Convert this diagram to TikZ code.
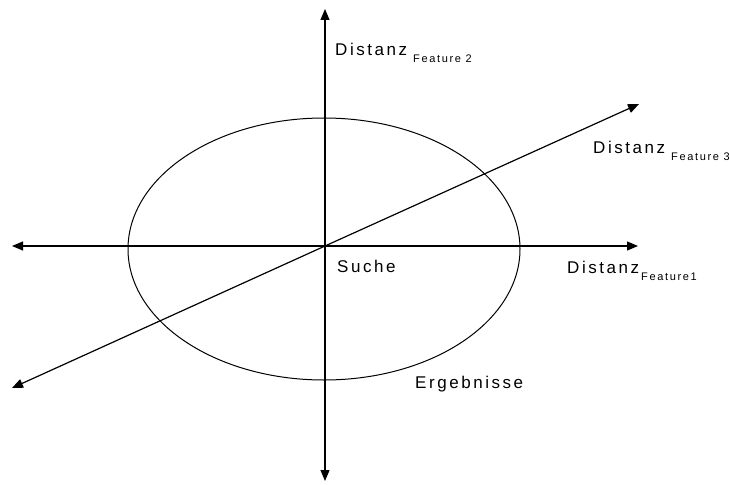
\documentclass[tikz,border=0pt]{standalone}
\usepackage{fontspec}
\setmainfont{Liberation Sans}[LetterSpace=15]
\usetikzlibrary{arrows.meta}
\tikzset{
  axis/.style={line width=1.2pt, -{Triangle[length=11pt,width=9pt]}},
  curve/.style={line width=1pt},
  lbl/.style={anchor=base west, inner sep=0pt, font=\fontsize{17}{20}\selectfont},
}
\newcommand{\subtxt}[1]{\raisebox{-7pt}{\fontsize{11}{13}\selectfont #1}}
\begin{document}
\begin{tikzpicture}[x=1pt,y=-1pt]
\useasboundingbox (0,0) rectangle (730,484);
\coordinate (O) at (325,246);
\coordinate (top) at (325,9);
\coordinate (bot) at (325,481);
\coordinate (left) at (12,246);
\coordinate (right) at (638,246);
\coordinate (ur) at (639,104);
\coordinate (ll) at (12,388);
\draw[curve] (324,249) ellipse [x radius=196, y radius=131];
\draw[axis] (O) -- (top);
\draw[axis] (O) -- (bot);
\draw[axis] (O) -- (left);
\draw[axis] (O) -- (right);
\draw[axis] (O) -- (ur);
\draw[axis] (O) -- (ll);
\node[lbl] (f2) at (335,56) {Distanz\hspace{6pt}\subtxt{Feature 2}};
\node[lbl] (f3) at (593,153) {Distanz\hspace{6pt}\subtxt{Feature 3}};
\node[lbl] (f1) at (567,273) {Distanz\hspace{2pt}\subtxt{Feature1}};
\node[lbl] (suche) at (337,272) {Suche};
\node[lbl] (erg) at (415,388) {Ergebnisse};
\end{tikzpicture}
\end{document}
